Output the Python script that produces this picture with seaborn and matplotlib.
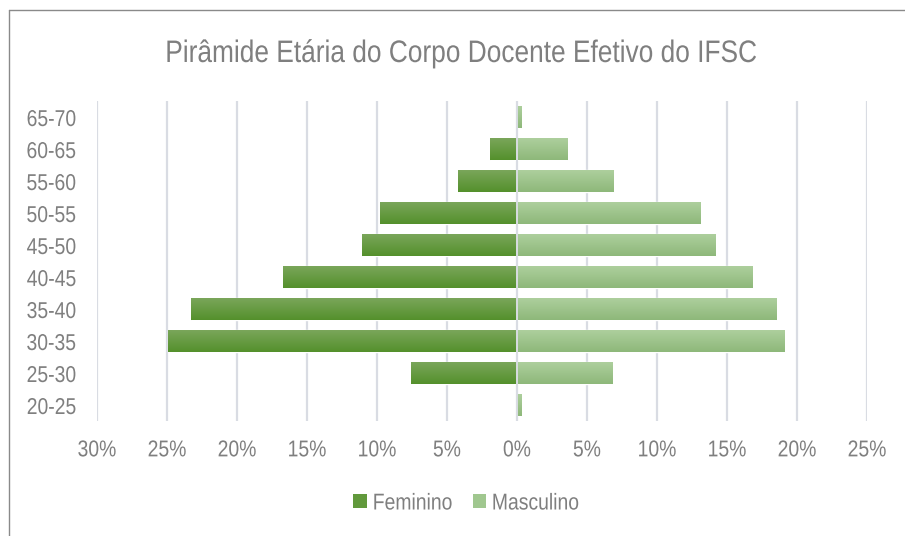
import numpy as np
import pandas as pd
import matplotlib
matplotlib.use("Agg")
import matplotlib.pyplot as plt
import seaborn as sns
from matplotlib.patches import Patch
from matplotlib.lines import Line2D
from matplotlib.colors import to_rgb
from matplotlib.patheffects import AbstractPathEffect
from matplotlib.transforms import Affine2D

# ---- data (percent of teaching staff) ----
faixas = ['65-70', '60-65', '55-60', '50-55', '45-50',
          '40-45', '35-40', '30-35', '25-30', '20-25']
feminino = [0.0, 1.9, 4.2, 9.8, 11.1, 16.7, 23.3, 24.9, 7.6, 0.0]
masculino = [0.3, 3.6, 6.9, 13.1, 14.2, 16.8, 18.5, 19.1, 6.8, 0.3]
series = ['Feminino', 'Masculino']
xticks = [-30, -25, -20, -15, -10, -5, 0, 5, 10, 15, 20, 25]
xticklabels = ['30%', '25%', '20%', '15%', '10%', '5%', '0%',
               '5%', '10%', '15%', '20%', '25%']
titulo = 'Pirâmide Etária do Corpo Docente Efetivo do IFSC'

df = pd.DataFrame({
    'Faixa': faixas * 2,
    'Sexo': ['Feminino'] * len(faixas) + ['Masculino'] * len(faixas),
    'Valor': [-v for v in feminino] + list(masculino),
})

sns.set_theme(style='white')
plt.rcParams['font.family'] = ['Liberation Sans', 'DejaVu Sans']


class Condense(AbstractPathEffect):
    """Horizontally condense text glyphs (narrow-font look)."""
    def __init__(self, sx=0.845, anchor='center'):
        super().__init__()
        self.sx = sx
        self.anchor = anchor

    def draw_path(self, renderer, gc, tpath, affine, rgbFace=None):
        ext = tpath.get_extents()
        if self.anchor == 'right':
            x0 = ext.x1
        elif self.anchor == 'left':
            x0 = ext.x0
        else:
            x0 = 0.5 * (ext.x0 + ext.x1)
        t = Affine2D().translate(-x0, 0).scale(self.sx, 1).translate(x0, 0)
        renderer.draw_path(gc, tpath, t + affine, rgbFace)


GRAY = '#7f7f7f'
GRID = '#d9dce3'
grad = {'Feminino': ('#7aa65a', '#54902c'),
        'Masculino': ('#adcf9d', '#8eb87a')}
solid = {'Feminino': '#61993c', 'Masculino': '#a0c78f'}
FS = 16.5

fig = plt.figure(figsize=(9.05, 5.36), dpi=100)
ax = fig.add_axes([97 / 905, 1 - 421 / 536, 770 / 905, 320 / 536])

sns.barplot(data=df, x='Valor', y='Faixa', hue='Sexo', order=faixas,
            hue_order=series, palette=solid, dodge=False, width=0.68,
            orient='h', saturation=1, legend=False, ax=ax, zorder=2)

# vertical gradient fill inside each bar
ax.set_xlim(-30, 25)
ylim = ax.get_ylim()
for p in list(ax.patches):
    w = p.get_width()
    if w == 0:
        continue
    key = 'Feminino' if w < 0 else 'Masculino'
    c0, c1 = np.array(to_rgb(grad[key][0])), np.array(to_rgb(grad[key][1]))
    t = np.linspace(0, 1, 64)[:, None, None]
    img = c0 * (1 - t) + c1 * t
    x0 = p.get_x()
    y0 = p.get_y()
    h = p.get_height()
    im = ax.imshow(img, extent=(min(x0, x0 + w), max(x0, x0 + w), y0 + h, y0),
                   origin='upper', aspect='auto', zorder=2.5, interpolation='bilinear')
    im.set_clip_path(p)
ax.set_xlim(-30, 25)
ax.set_ylim(ylim)

ax.set_xticks(xticks)
ax.set_xticklabels(xticklabels)
ax.grid(axis='x', color=GRID, linewidth=1.6, zorder=0)
ax.grid(axis='y', visible=False)
ax.set_axisbelow(True)
ax.axvline(0, color=GRID, linewidth=1.4, zorder=4)
for s in ax.spines.values():
    s.set_visible(False)
ax.set_xlabel('')
ax.set_ylabel('')
ax.tick_params(axis='both', length=0, labelcolor=GRAY, labelsize=FS)
ax.tick_params(axis='x', pad=12.5)
ax.tick_params(axis='y', pad=15)
for lab in ax.get_xticklabels():
    lab.set_path_effects([Condense(anchor='center')])
for lab in ax.get_yticklabels():
    lab.set_path_effects([Condense(anchor='right')])

fig.text(461 / 905, 1 - 62 / 536, titulo, ha='center', va='baseline',
         fontsize=22.4, color=GRAY, path_effects=[Condense(anchor='center')])

handles = [Patch(facecolor=solid[s], edgecolor='none', label=s) for s in series]
leg = fig.legend(handles=handles, loc='center', bbox_to_anchor=(474 / 905, 1 - 503 / 536),
                 ncol=2, frameon=False, handlelength=0.57, handleheight=0.57,
                 handletextpad=0.26, columnspacing=0.26, borderpad=0,
                 prop={'size': FS})
for t in leg.get_texts():
    t.set_color(GRAY)
    t.set_path_effects([Condense(anchor='left')])

# chart-area border (top and left visible)
yb = 1 - 10 / 536
xb = 8.5 / 905
fig.add_artist(Line2D([xb, xb], [0, yb], transform=fig.transFigure, color='#8a8a8a', lw=1.0))
fig.add_artist(Line2D([xb, 1], [yb, yb], transform=fig.transFigure, color='#8a8a8a', lw=1.0))

fig.savefig('out.png', dpi=100)
